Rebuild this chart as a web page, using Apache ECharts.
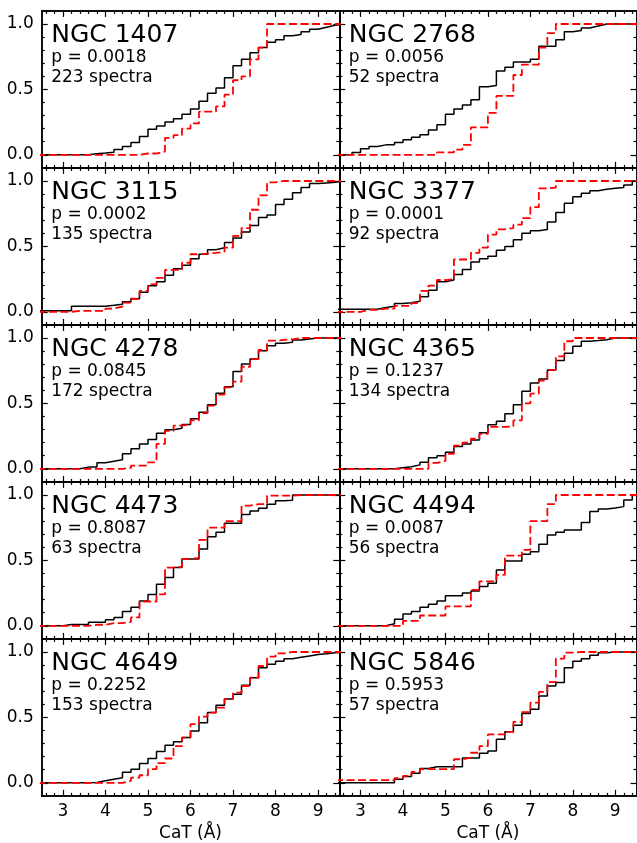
<!DOCTYPE html>
<html>
<head>
<meta charset="utf-8">
<script src="https://cdn.jsdelivr.net/npm/echarts@6/dist/echarts.min.js"></script>
<style>
  html, body { margin: 0; padding: 0; background: #fff; }
  #chart { width: 637px; height: 843px; }
</style>
</head>
<body>
<div id="chart"></div>
<script>
// bin edges (CaT, Angstrom) at which the cumulative fractions step
const edges = [2.4, 2.6, 2.8, 3.0, 3.2, 3.4, 3.6, 3.8, 4.0, 4.2, 4.4, 4.6, 4.8, 5.0, 5.2, 5.4, 5.6, 5.8,
  6.0, 6.2, 6.4, 6.6, 6.8, 7.0, 7.2, 7.4, 7.6, 7.8, 8.0, 8.2, 8.4, 8.6, 8.8, 9.0, 9.2, 9.4, 9.6];

const galaxies = ['NGC 1407', 'NGC 2768', 'NGC 3115', 'NGC 3377', 'NGC 4278',
  'NGC 4365', 'NGC 4473', 'NGC 4494', 'NGC 4649', 'NGC 5846'];
const pValues = ['0.0018', '0.0056', '0.0002', '0.0001', '0.0845',
  '0.1237', '0.8087', '0.0087', '0.2252', '0.5953'];
const nSpectra = [223, 52, 135, 92, 172, 134, 63, 56, 153, 57];

// black solid curves
const ngc1407Black = [0,0,0,0,0,0,0.008,0.013,0.02,0.04,0.064,0.094,0.14,0.196,0.22,0.25,0.275,0.31,0.35,0.41,0.47,0.51,0.59,0.68,0.73,0.78,0.82,0.86,0.88,0.91,0.92,0.94,0.96,0.975,0.99,1,1];
const ngc2768Black = [0,0,0.018,0.046,0.064,0.076,0.076,0.094,0.115,0.135,0.153,0.19,0.23,0.31,0.35,0.38,0.42,0.52,0.53,0.64,0.67,0.71,0.71,0.73,0.83,0.83,0.88,0.94,0.95,0.97,0.985,1,1,1,1,1,1];
const ngc3115Black = [0.008,0.008,0.008,0.008,0.043,0.043,0.043,0.043,0.05,0.058,0.076,0.1,0.15,0.2,0.23,0.28,0.33,0.355,0.405,0.44,0.475,0.49,0.53,0.565,0.61,0.66,0.72,0.74,0.82,0.86,0.91,0.95,0.98,0.985,0.99,1,1];
const ngc3377Black = [0.02,0.02,0.02,0.02,0.02,0.033,0.043,0.063,0.07,0.08,0.116,0.165,0.23,0.243,0.286,0.324,0.38,0.405,0.425,0.47,0.5,0.55,0.6,0.62,0.63,0.686,0.76,0.83,0.88,0.906,0.926,0.937,0.944,0.95,0.97,1,1];
const ngc4278Black = [0,0,0,0,0,0.013,0.013,0.046,0.058,0.069,0.115,0.153,0.19,0.224,0.272,0.298,0.31,0.338,0.382,0.433,0.49,0.578,0.628,0.743,0.802,0.84,0.903,0.94,0.959,0.967,0.985,0.992,1,1,1,1,1];
const ngc4365Black = [0,0,0,0,0,0,0,0.008,0.015,0.03,0.05,0.084,0.1,0.127,0.17,0.19,0.22,0.275,0.336,0.364,0.42,0.49,0.593,0.656,0.687,0.756,0.827,0.883,0.936,0.975,0.98,0.987,1,1,1,1,1];
const ngc4473Black = [0,0,0,0.01,0.01,0.01,0.028,0.028,0.046,0.064,0.11,0.142,0.19,0.24,0.318,0.37,0.445,0.51,0.51,0.588,0.68,0.715,0.784,0.784,0.85,0.878,0.898,0.929,0.955,0.96,1,1,1,1,1,1,1];
const ngc4494Black = [0,0,0,0,0,0,0.015,0.05,0.09,0.11,0.142,0.165,0.19,0.23,0.23,0.25,0.267,0.3,0.326,0.427,0.496,0.496,0.547,0.567,0.623,0.695,0.715,0.733,0.733,0.79,0.873,0.893,0.9,0.911,0.962,1,1];
const ngc4649Black = [0,0,0,0,0,0,0.003,0.015,0.028,0.038,0.08,0.104,0.148,0.186,0.24,0.288,0.313,0.346,0.397,0.46,0.537,0.593,0.64,0.677,0.745,0.804,0.88,0.906,0.93,0.949,0.96,0.97,0.98,0.987,0.995,1,1];
const ngc5846Black = [0,0,0,0,0,0,0,0.028,0.048,0.074,0.11,0.122,0.122,0.122,0.122,0.19,0.19,0.226,0.244,0.333,0.39,0.44,0.53,0.562,0.664,0.74,0.766,0.88,0.93,0.949,0.975,0.995,1,1,1,1,1];

// red dashed curves
const ngc1407Red = [0,0,0,0,0,0,0,0,0,0,0,0,0.01,0.01,0.025,0.13,0.15,0.2,0.24,0.33,0.33,0.37,0.46,0.57,0.6,0.73,0.82,1,1,1,1,1,1,1,1,1,1];
const ngc2768Red = [0,0,0,0,0,0,0,0,0,0,0,0,0.018,0.018,0.04,0.076,0.21,0.21,0.32,0.45,0.45,0.61,0.69,0.69,0.82,0.93,1,1,1,1,1,1,1,1,1,1,1];
const ngc3115Red = [0,0,0,0,0.007,0.007,0.007,0.007,0.025,0.04,0.07,0.1,0.16,0.21,0.26,0.32,0.32,0.375,0.44,0.445,0.45,0.46,0.49,0.58,0.64,0.78,0.89,0.99,1,1,1,1,1,1,1,1,1];
const ngc3377Red = [0,0,0,0.015,0.015,0.025,0.025,0.045,0.045,0.066,0.16,0.2,0.243,0.25,0.4,0.4,0.45,0.49,0.59,0.63,0.64,0.666,0.716,0.8,0.944,0.95,1,1,1,1,1,1,1,1,1,1,1];
const ngc4278Red = [0,0,0,0,0,0,0,0,0,0,0.008,0.025,0.025,0.05,0.19,0.29,0.33,0.34,0.37,0.425,0.483,0.567,0.623,0.667,0.78,0.84,0.908,0.98,0.985,0.99,1,1,1,1,1,1,1];
const ngc4365Red = [0,0,0,0,0,0,0,0,0,0,0,0.046,0.06,0.115,0.178,0.2,0.23,0.267,0.32,0.32,0.325,0.37,0.5,0.575,0.674,0.756,0.86,0.975,1,1,1,1,1,1,1,1,1];
const ngc4473Red = [0,0,0,0,0,0,0.008,0.008,0.02,0.02,0.03,0.064,0.186,0.186,0.24,0.445,0.45,0.51,0.52,0.657,0.75,0.75,0.8,0.8,0.918,0.93,0.93,0.995,0.995,0.995,1,1,1,1,1,1,1];
const ngc4494Red = [0,0,0,0,0,0,0,0,0.038,0.038,0.079,0.079,0.079,0.148,0.148,0.148,0.275,0.34,0.34,0.39,0.537,0.537,0.58,0.8,0.8,0.93,1,1,1,1,1,1,1,1,1,1,1];
const ngc4649Red = [0,0,0,0,0,0,0,0,0,0,0.015,0.04,0.058,0.104,0.15,0.186,0.28,0.346,0.448,0.506,0.537,0.575,0.64,0.69,0.74,0.804,0.893,0.964,0.99,1,1,1,1,1,1,1,1];
const ngc5846Red = [0.02,0.02,0.02,0.02,0.02,0.02,0.02,0.036,0.053,0.084,0.104,0.104,0.104,0.104,0.18,0.193,0.23,0.28,0.37,0.37,0.39,0.466,0.54,0.613,0.695,0.77,0.95,0.995,1,1,1,1,1,1,1,1,1];

const blackCurves = [ngc1407Black, ngc2768Black, ngc3115Black, ngc3377Black, ngc4278Black,
  ngc4365Black, ngc4473Black, ngc4494Black, ngc4649Black, ngc5846Black];
const redCurves = [ngc1407Red, ngc2768Red, ngc3115Red, ngc3377Red, ngc4278Red,
  ngc4365Red, ngc4473Red, ngc4494Red, ngc4649Red, ngc5846Red];

// ticks
const xMajorTicks = [3, 4, 5, 6, 7, 8, 9];
const xMinorTicks = [2.6, 2.8, 3.2, 3.4, 3.6, 3.8, 4.2, 4.4, 4.6, 4.8, 5.2, 5.4, 5.6, 5.8,
  6.2, 6.4, 6.6, 6.8, 7.2, 7.4, 7.6, 7.8, 8.2, 8.4, 8.6, 8.8, 9.2, 9.4];
const yMajorTicks = [0, 0.5, 1.0];
const yMinorTicks = [0.1, 0.2, 0.3, 0.4, 0.6, 0.7, 0.8, 0.9];

const FONT = 'DejaVu Sans';
const colLeft = [41.7, 339.3];
const colWidth = [297.6, 297.2];
const rowTop = 10.9;
const rowHeight = 157;

const chart = echarts.init(document.getElementById('chart'));

const grid = [], xAxis = [], yAxis = [], series = [], graphic = [];

function makeX(gridIndex, position, ticks, len, labels) {
    return {
        type: 'value', gridIndex, position, min: 2.5, max: 9.5,
        axisLine: { show: true, onZero: false, lineStyle: { color: '#000', width: 1.5 } },
        axisTick: { show: true, inside: true, length: len, customValues: ticks,
            lineStyle: { color: '#000', width: 1.2 } },
        axisLabel: { show: labels, customValues: xMajorTicks, color: '#000',
            fontSize: 17, fontFamily: FONT, margin: 7 },
        splitLine: { show: false },
        name: labels ? 'CaT (Å)' : '',
        nameLocation: 'middle', nameGap: 29,
        nameTextStyle: { color: '#000', fontSize: 17, fontFamily: FONT }
    };
}

function makeY(gridIndex, position, ticks, len, labels) {
    return {
        type: 'value', gridIndex, position, min: -0.1, max: 1.1,
        axisLine: { show: true, onZero: false, lineStyle: { color: '#000', width: 1.5 } },
        axisTick: { show: true, inside: true, length: len, customValues: ticks,
            lineStyle: { color: '#000', width: 1.2 } },
        axisLabel: { show: labels, customValues: yMajorTicks, color: '#000',
            fontSize: 17, fontFamily: FONT, margin: 8,
            formatter: v => v.toFixed(1) },
        splitLine: { show: false }
    };
}

galaxies.forEach((name, i) => {
    const row = Math.floor(i / 2), col = i % 2;
    const top = rowTop + row * rowHeight;
    const box = { left: colLeft[col], top: top, width: colWidth[col], height: rowHeight };
    const gMajor = grid.length;
    grid.push(Object.assign({}, box));
    const gMinor = grid.length;
    grid.push(Object.assign({}, box));

    const xi = xAxis.length;
    xAxis.push(makeX(gMajor, 'bottom', xMajorTicks, 6, row === 4));
    xAxis.push(makeX(gMajor, 'top', xMajorTicks, 6, false));
    xAxis.push(makeX(gMinor, 'bottom', xMinorTicks, 3, false));
    xAxis.push(makeX(gMinor, 'top', xMinorTicks, 3, false));

    const yi = yAxis.length;
    yAxis.push(makeY(gMajor, 'left', yMajorTicks, 6, col === 0));
    yAxis.push(makeY(gMajor, 'right', yMajorTicks, 6, false));
    yAxis.push(makeY(gMinor, 'left', yMinorTicks, 3, false));
    yAxis.push(makeY(gMinor, 'right', yMinorTicks, 3, false));

    series.push({
        type: 'line', xAxisIndex: xi, yAxisIndex: yi,
        data: edges.map((x, k) => [x, blackCurves[i][k]]),
        step: 'end', symbol: 'none', clip: true,
        lineStyle: { color: '#000', width: 1.5 }
    });
    series.push({
        type: 'line', xAxisIndex: xi, yAxisIndex: yi,
        data: edges.map((x, k) => [x, redCurves[i][k]]),
        step: 'end', symbol: 'none', clip: true,
        lineStyle: { color: '#ff0000', width: 1.8, type: [8, 3.5] }
    });

    const tx = colLeft[col] + 9.5;
    graphic.push({ type: 'text', x: tx, y: top + 24.3, silent: true,
        style: { text: name, font: '25px "DejaVu Sans"', fill: '#000', verticalAlign: 'middle' } });
    graphic.push({ type: 'text', x: tx, y: top + 46.6, silent: true,
        style: { text: 'p = ' + pValues[i], font: '17px "DejaVu Sans"', fill: '#000', verticalAlign: 'middle' } });
    graphic.push({ type: 'text', x: tx, y: top + 66.6, silent: true,
        style: { text: nSpectra[i] + ' spectra', font: '17px "DejaVu Sans"', fill: '#000', verticalAlign: 'middle' } });
});

chart.setOption({
    animation: false,
    backgroundColor: '#fff',
    grid, xAxis, yAxis, series, graphic
});
window.addEventListener('resize', () => chart.resize());
</script>
</body>
</html>
